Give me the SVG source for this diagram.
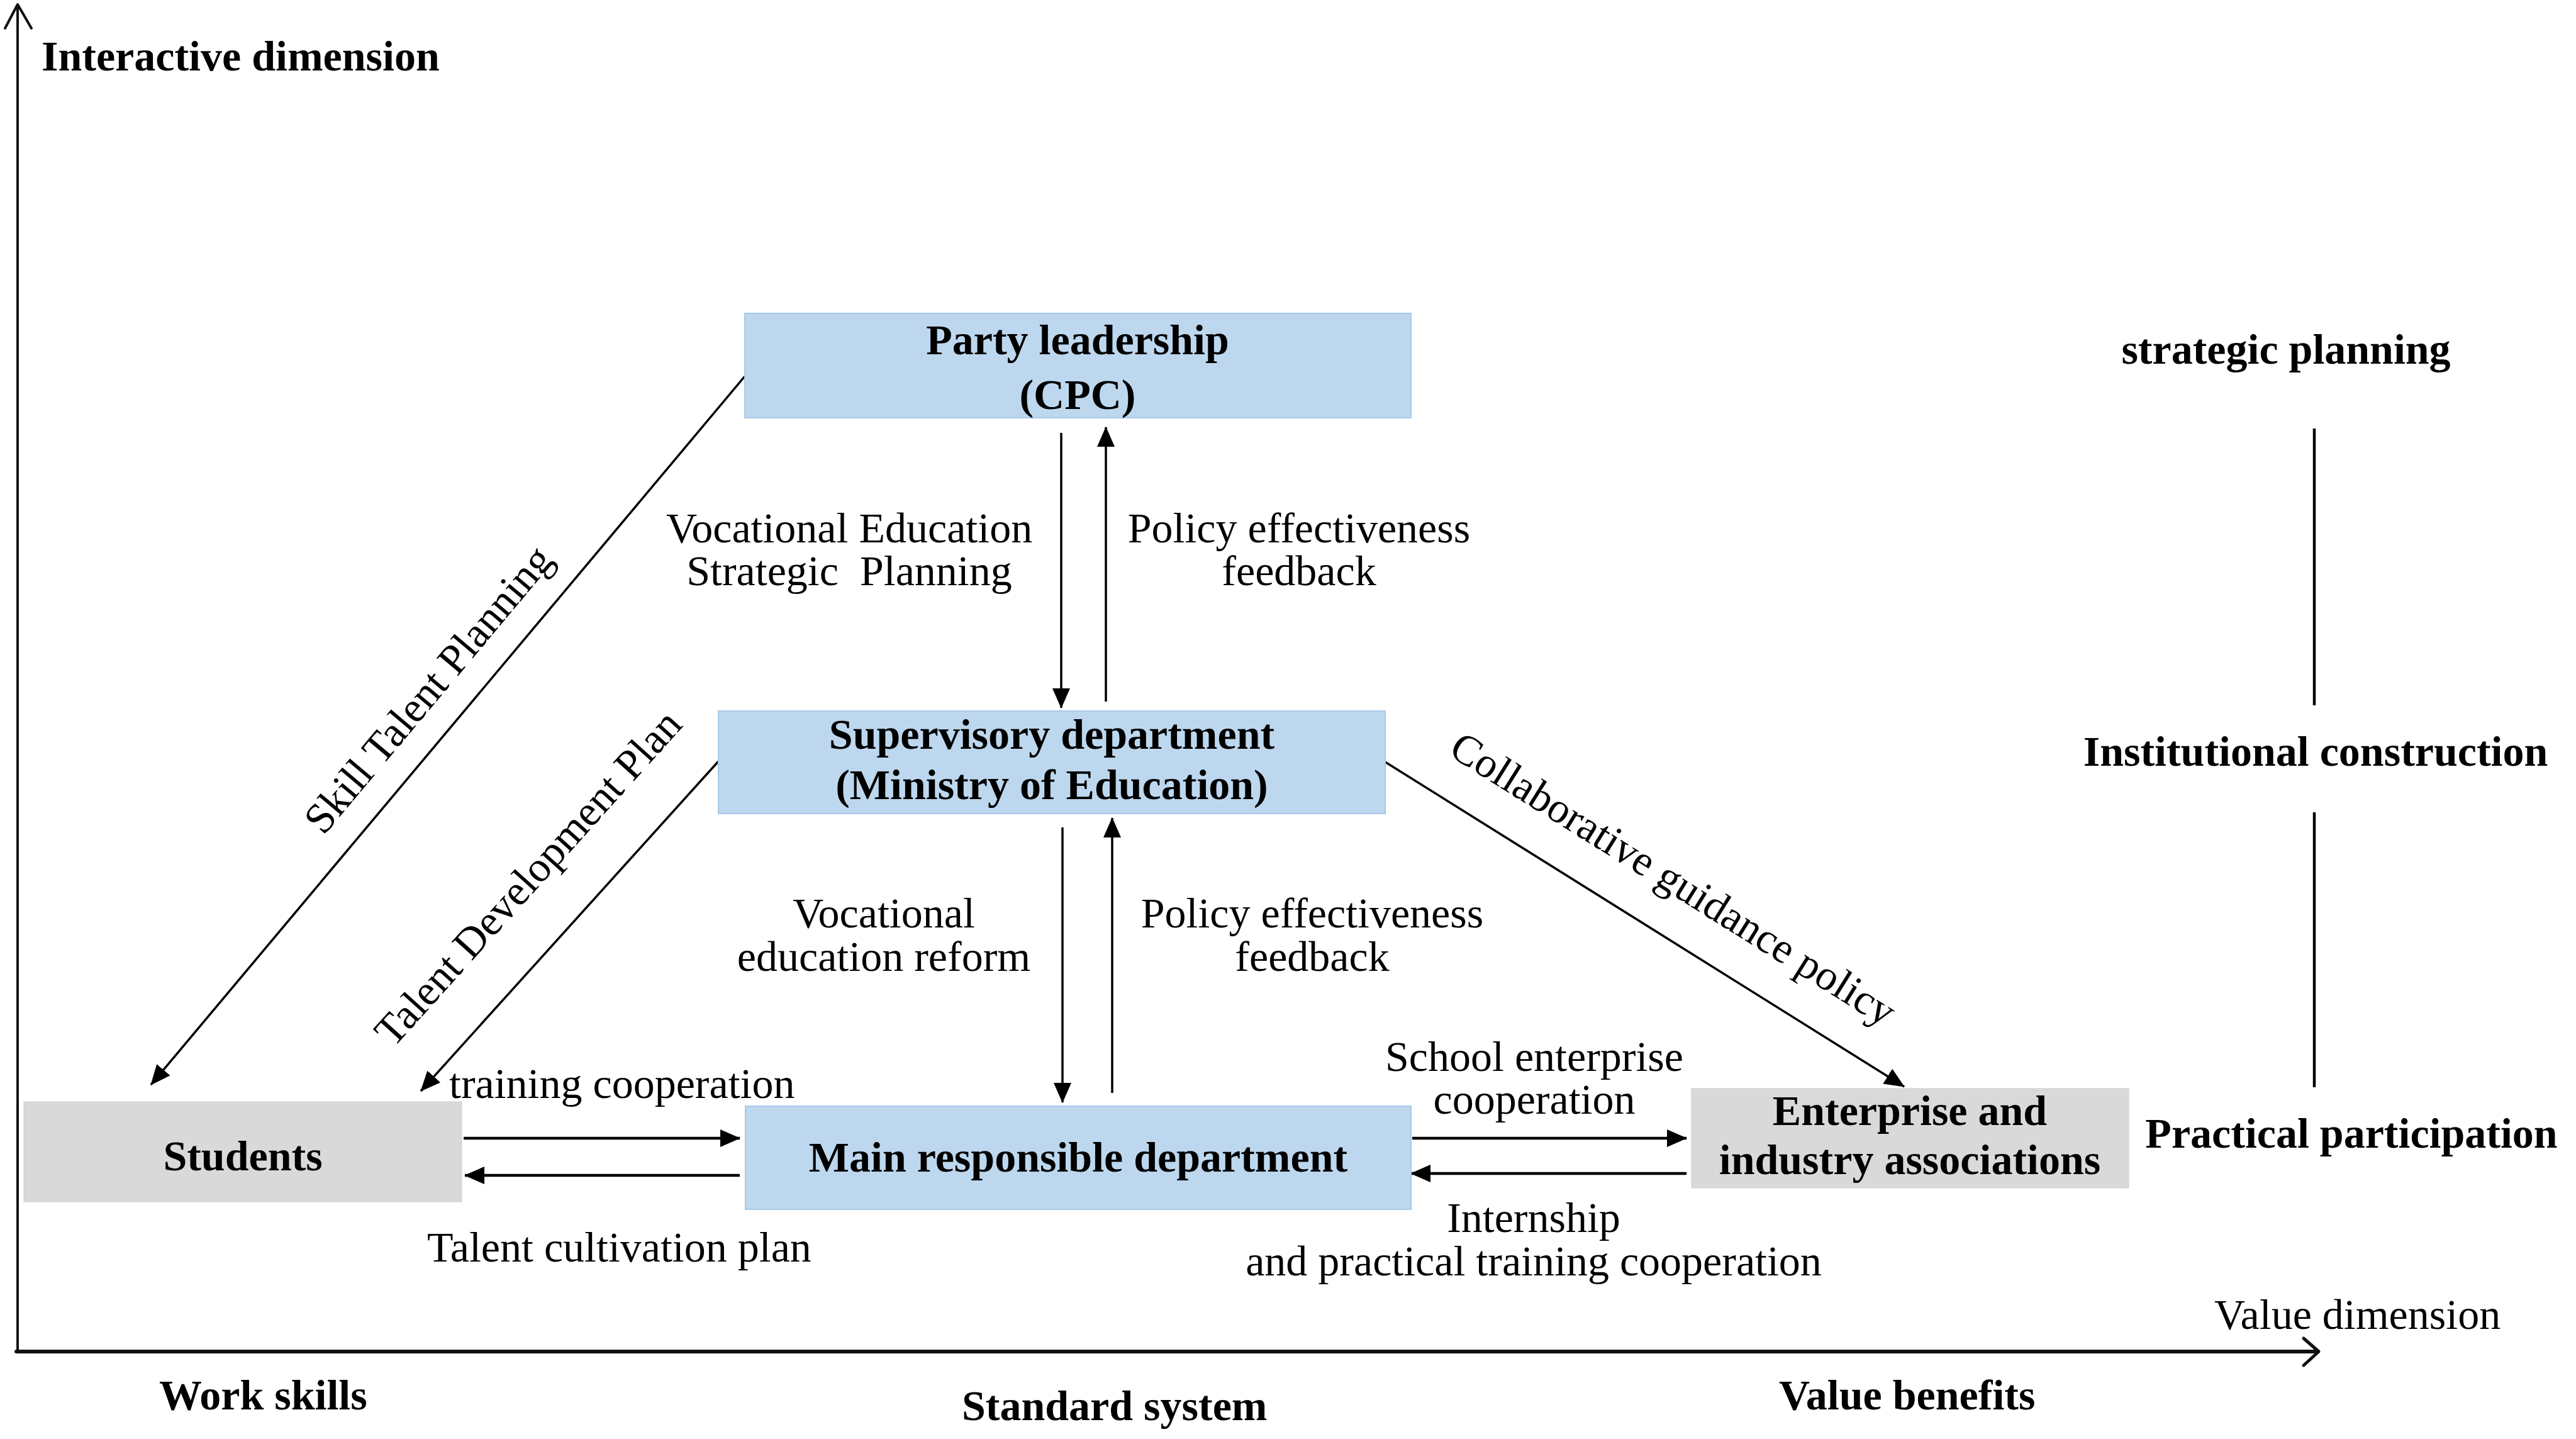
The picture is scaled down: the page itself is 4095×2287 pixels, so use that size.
<svg xmlns="http://www.w3.org/2000/svg" width="4095" height="2287" viewBox="0 0 4095 2287">
<style>
text{font-family:"Liberation Serif","Times New Roman",serif;font-size:68px;fill:#000}
.b{font-weight:bold}
.m{text-anchor:middle}
.blue{fill:#BDD7EE;stroke:#A8C9E9;stroke-width:2}
.gray{fill:#D9D9D9;stroke:#D0D0D0;stroke-width:1}
.c{stroke:#000;stroke-width:3.5;fill:none}
.ch{stroke:#000;stroke-width:4.5;fill:none}
.ax{stroke:#111;fill:none;stroke-linecap:round;stroke-linejoin:round}
</style>
<defs>
<marker id="ah" markerUnits="userSpaceOnUse" markerWidth="32" markerHeight="28" refX="31" refY="14" orient="auto">
<path d="M0,0 L32,14 L0,28 Z" fill="#000"/>
</marker>
</defs>
<rect width="4095" height="2287" fill="#fff"/>

<g id="axes">
<line class="ax" x1="28" y1="8" x2="28" y2="2148" stroke-width="4"/>
<polyline class="ax" points="8,45 28,7 50,45" stroke-width="4"/>
<line class="ax" x1="26" y1="2148" x2="3684" y2="2148" stroke-width="6"/>
<polyline class="ax" points="3662,2127 3686,2148 3662,2170" stroke-width="5"/>
<text class="b" x="66" y="112">Interactive dimension</text>
<text x="3520" y="2112">Value dimension</text>
<text class="b" x="253" y="2240">Work skills</text>
<text class="b" x="1529" y="2257">Standard system</text>
<text class="b" x="2828" y="2240">Value benefits</text>
</g>

<g id="levels">
<text class="b m" x="3634" y="578">strategic planning</text>
<line x1="3679" y1="681" x2="3679" y2="1121" stroke="#000" stroke-width="4.5"/>
<text class="b m" x="3681" y="1217">Institutional construction</text>
<line x1="3679" y1="1291" x2="3679" y2="1728" stroke="#000" stroke-width="4.5"/>
<text class="b m" x="3738" y="1824">Practical participation</text>
</g>

<g id="connectors">
<line class="c" x1="1687" y1="688" x2="1687" y2="1125" marker-end="url(#ah)"/>
<line class="c" x1="1758" y1="1115" x2="1758" y2="679" marker-end="url(#ah)"/>
<line class="c" x1="1689" y1="1315" x2="1689" y2="1752" marker-end="url(#ah)"/>
<line class="c" x1="1768" y1="1737" x2="1768" y2="1300" marker-end="url(#ah)"/>
<line class="c" x1="1184" y1="598" x2="240" y2="1724" marker-end="url(#ah)"/>
<line class="c" x1="1142" y1="1210" x2="669" y2="1734" marker-end="url(#ah)"/>
<line class="c" x1="2202" y1="1211" x2="3027" y2="1727" marker-end="url(#ah)"/>
<line class="ch" x1="737" y1="1809" x2="1176" y2="1809" marker-end="url(#ah)"/>
<line class="ch" x1="1176" y1="1868" x2="739" y2="1868" marker-end="url(#ah)"/>
<line class="ch" x1="2245" y1="1809" x2="2681" y2="1809" marker-end="url(#ah)"/>
<line class="ch" x1="2681" y1="1865" x2="2243" y2="1865" marker-end="url(#ah)"/>

<text class="m" x="1350" y="862">Vocational Education</text>
<text class="m" x="1350" y="930" style="white-space:pre">Strategic  Planning</text>
<text class="m" x="2065" y="862">Policy effectiveness</text>
<text class="m" x="2065" y="930">feedback</text>
<text class="m" x="1405" y="1474">Vocational</text>
<text class="m" x="1405" y="1543">education reform</text>
<text class="m" x="2086" y="1474">Policy effectiveness</text>
<text class="m" x="2086" y="1543">feedback</text>
<text x="714" y="1745">training cooperation</text>
<text x="679" y="2005">Talent cultivation plan</text>
<text class="m" x="2439" y="1702">School enterprise</text>
<text class="m" x="2439" y="1770">cooperation</text>
<text class="m" x="2438" y="1958">Internship</text>
<text class="m" x="2438" y="2027">and practical training cooperation</text>
<text class="m" transform="translate(698,1110) rotate(-50)">Skill Talent Planning</text>
<text class="m" transform="translate(856,1410) rotate(-48)">Talent Development Plan</text>
<text class="m" transform="translate(2648,1416) rotate(32)">Collaborative guidance policy</text>
</g>

<g id="party">
<rect class="blue" x="1184" y="498" width="1059" height="166"/>
<text class="b m" x="1713" y="563">Party leadership</text>
<text class="b m" x="1713" y="650">(CPC)</text>
</g>

<g id="supervisory">
<rect class="blue" x="1142" y="1130" width="1060" height="163"/>
<text class="b m" x="1672" y="1190">Supervisory department</text>
<text class="b m" x="1672" y="1270">(Ministry of Education)</text>
</g>

<g id="main">
<rect class="blue" x="1185" y="1758" width="1058" height="164"/>
<text class="b m" x="1714" y="1862">Main responsible department</text>
</g>

<g id="students">
<rect class="gray" x="38" y="1751" width="696" height="159"/>
<text class="b m" x="386" y="1860">Students</text>
</g>

<g id="enterprise">
<rect class="gray" x="2689" y="1730" width="695" height="158"/>
<text class="b m" x="3036" y="1788">Enterprise and</text>
<text class="b m" x="3036" y="1866">industry associations</text>
</g>
</svg>
